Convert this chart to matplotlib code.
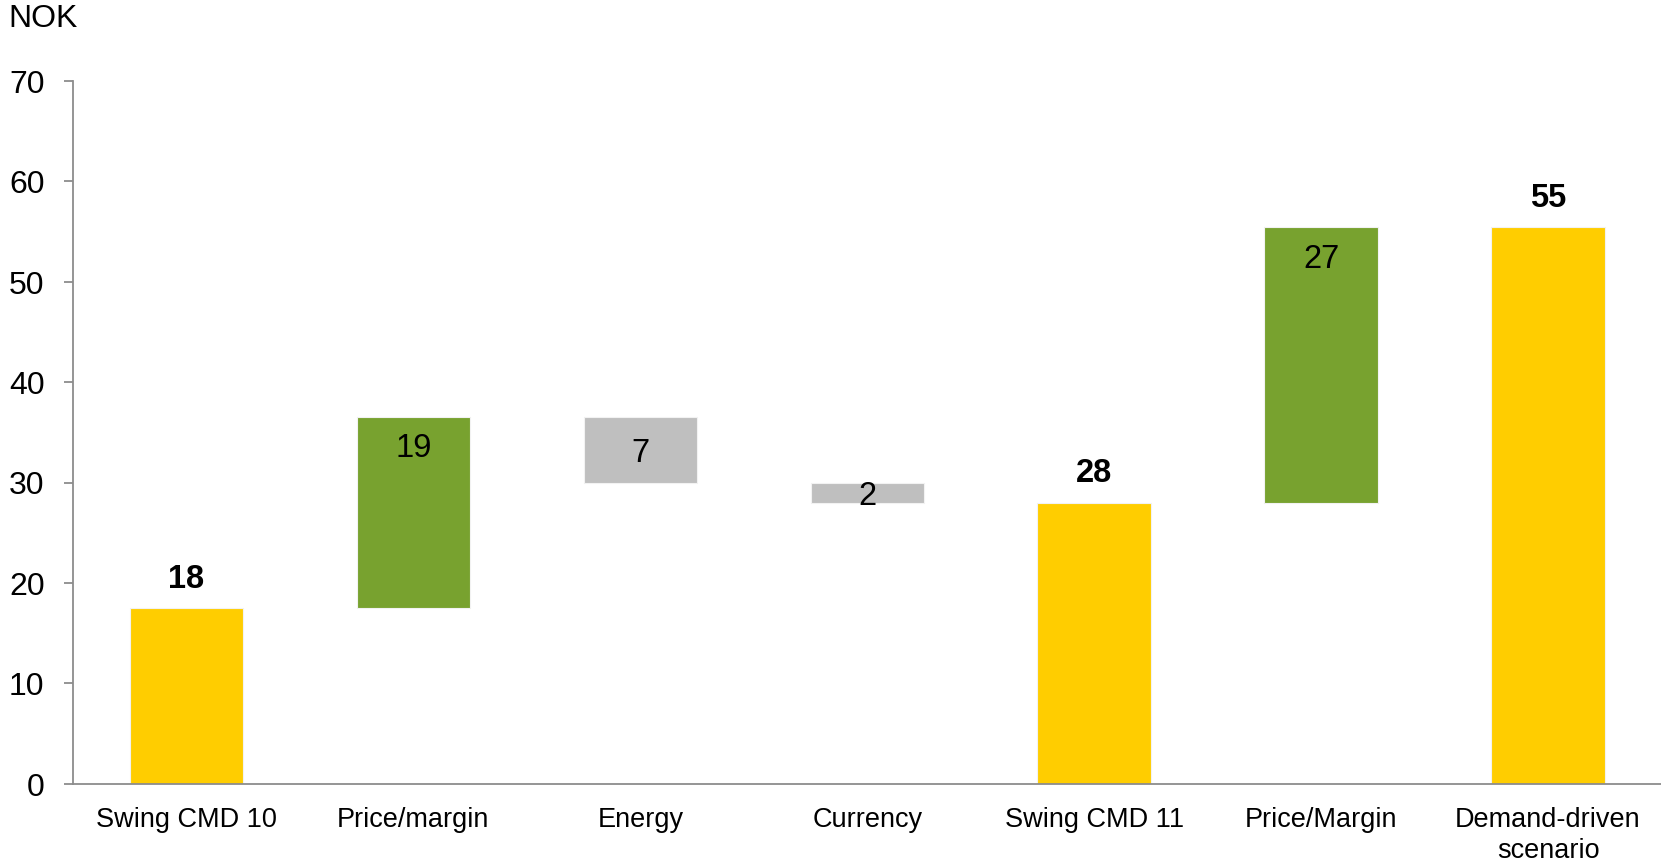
import matplotlib
matplotlib.use("Agg")
import matplotlib.pyplot as plt
import numpy as np

plt.rcParams['font.family'] = ['Liberation Sans', 'DejaVu Sans']

categories = ["Swing CMD 10", "Price/margin", "Energy", "Currency",
              "Swing CMD 11", "Price/Margin", "Demand-driven\nscenario"]
values = [17.5, 19.0, -6.5, -2.0, 28.0, 27.4, 55.4]
is_total = [True, False, False, False, True, False, True]
labels = ["18", "19", "7", "2", "28", "27", "55"]
y_ticks = [0, 10, 20, 30, 40, 50, 60, 70]
unit = "NOK"

YELLOW = "#FFCD00"
GREEN = "#78A22F"
GRAY = "#BFBFBF"

fig = plt.figure(figsize=(16.615, 8.625), dpi=100)
ax = fig.add_axes([0.04395, 0.0905, 0.95605, 0.8155])

x = np.arange(len(categories))
running = 0.0
for i, (v, tot, lab) in enumerate(zip(values, is_total, labels)):
    if tot:
        bottom, height = 0.0, v
        running = v
        color = YELLOW
    else:
        if v >= 0:
            bottom, height = running, v
            color = GREEN
        else:
            bottom, height = running + v, -v
            color = GRAY
        running += v
    ax.bar(x[i], height, bottom=bottom, width=0.5, color=color,
           edgecolor="#F2F2F2", linewidth=0.8)
    top = bottom + height
    if tot:
        ax.annotate(lab, (x[i], top), xytext=(0, 21), textcoords="offset points",
                    ha="center", va="center", fontsize=23.5, fontweight="bold")
    elif v >= 0:
        ax.annotate(lab, (x[i], top), xytext=(0, -22.5), textcoords="offset points",
                    ha="center", va="center", fontsize=23.5)
    else:
        ax.annotate(lab, (x[i], bottom + height / 2), xytext=(0, -2.5),
                    textcoords="offset points", ha="center", va="center",
                    fontsize=23.5)

ax.set_xlim(-0.5, len(categories) - 0.5)
ax.set_ylim(0, 70)
ax.set_yticks(y_ticks)
ax.set_xticks(x)
ax.set_xticklabels(categories, fontsize=19.5, linespacing=1.25)
ax.tick_params(axis="y", labelsize=23, length=6.5, width=1.3, color="#8C8C8C",
               pad=14)
ax.tick_params(axis="x", length=0, pad=16)

for s in ["top", "right"]:
    ax.spines[s].set_visible(False)
for s in ["left", "bottom"]:
    ax.spines[s].set_color("#8C8C8C")
    ax.spines[s].set_linewidth(1.3)

fig.text(8 / 1661, 1 - 19 / 862, unit, fontsize=23, ha="left", va="center")

fig.savefig("out.png", dpi=100)
